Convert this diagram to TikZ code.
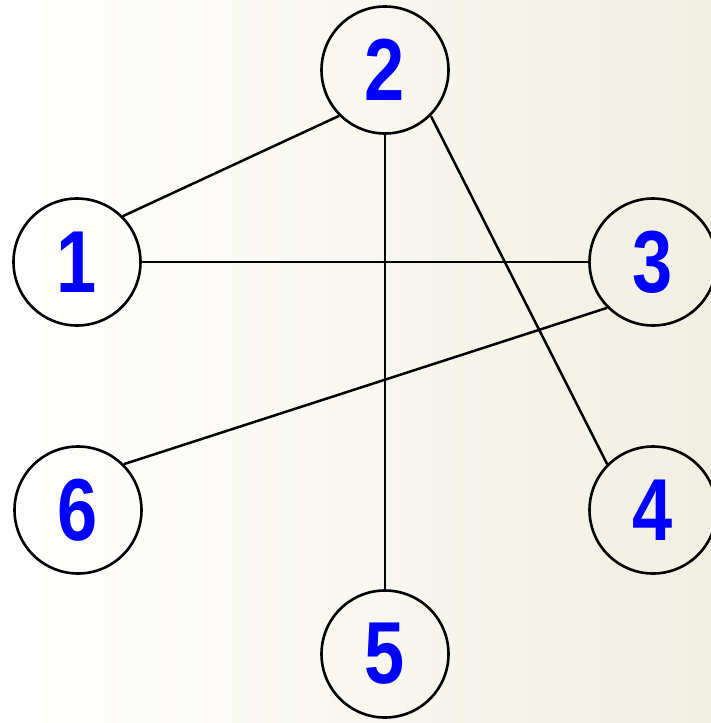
\documentclass[tikz,border=0pt]{standalone}
\usepackage{fontspec}
\setmainfont{Liberation Sans}
\newfontfamily\numfont[FakeStretch=0.82]{Liberation Sans}
\usetikzlibrary{positioning}
\definecolor{bgtan}{RGB}{241,239,226}
\definecolor{numblue}{RGB}{0,0,255}

\begin{document}
\begin{tikzpicture}[x=1pt,y=-1pt]
\tikzset{vertex/.style={circle,draw,line width=2.6pt,minimum size=127pt,inner sep=0pt,
  font=\numfont\fontsize{88}{92}\selectfont\bfseries,text=numblue}}
\tikzset{edge/.style={line width=2.5pt}}
\useasboundingbox (0,0) rectangle (711,723);
\clip (0,0) rectangle (711,723);
\shade[left color=white,right color=bgtan] (0,0) rectangle (711,723);
\node[vertex] (v1) at (77,262) {1};
\node[vertex] (v2) at (385,70) {2};
\node[vertex] (v3) at (653,262) {3};
\node[vertex] (v4) at (653,510) {4};
\node[vertex] (v5) at (385,654) {5};
\node[vertex] (v6) at (78,510) {6};
\draw[edge] (v1.north east) -- (v2.south west);
\draw[edge] (v1.east) -- (v3.west);
\draw[edge] (v2.south) -- (v5.north);
\draw[edge] (v2.south east) -- (v4.north west);
\draw[edge] (v3.south west) -- (v6.north east);
\end{tikzpicture}
\end{document}
